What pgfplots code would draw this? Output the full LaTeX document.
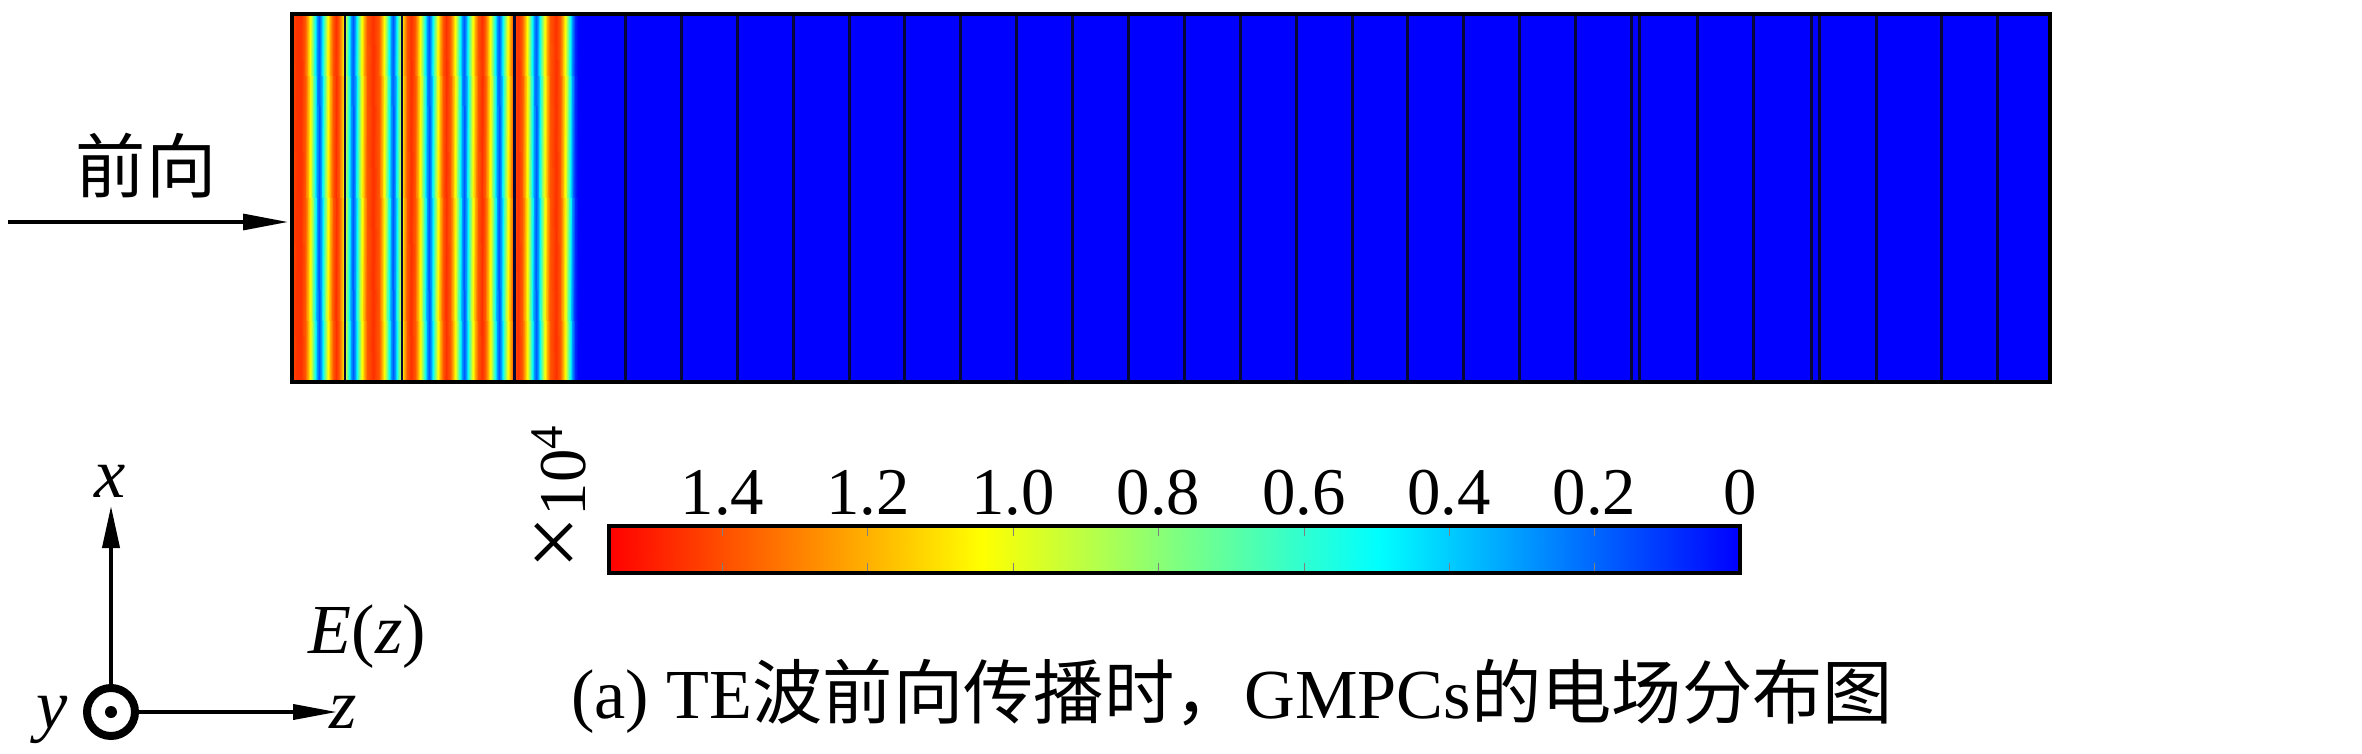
\documentclass[border=0pt]{standalone}
\usepackage{fontspec}
\setmainfont{Liberation Serif}
\newfontfamily\cjk{Noto Sans CJK SC}
\usepackage{pgfplots}
\usepackage{pgfplotstable}
\pgfplotsset{compat=1.18}
\usetikzlibrary{arrows.meta}
\definecolor{layerline}{rgb}{0.03,0.03,0.22}
\newcommand\fs{\fontsize{20}{24}\selectfont}
\pgfplotsset{
  colormap={gmpc}{rgb(0cm)=(0,0,1) rgb(0.32cm)=(0,1,1) rgb(0.5cm)=(0.5,1,0.5) rgb(0.67cm)=(1,1,0) rgb(1cm)=(1,0,0)},
}

\begin{document}
\begin{tikzpicture}
% |E| along z (px from the left edge of the crystal), in units of 10^4
\pgfplotstableread{
x c
0 1.40
4 1.45
9 1.46
13 1.38
16 1.20
19 0.97
22 0.65
25 0.30
27 0.18
29 0.30
32 0.65
35 0.97
38 1.20
41 1.38
44 1.46
47 1.38
50 1.20
53 0.97
56 0.65
59 0.30
61 0.18
63 0.30
66 0.65
69 0.97
72 1.20
75 1.38
81 1.46
87 1.38
90 1.20
93 0.97
96 0.65
99 0.30
101 0.18
103 0.30
106 0.65
109 0.97
112 1.20
115 1.38
119 1.46
123 1.38
126 1.20
129 0.97
132 0.65
135 0.30
137 0.18
139 0.30
142 0.65
145 0.97
148 1.20
151 1.38
154 1.46
158 1.38
161 1.20
164 0.97
167 0.65
170 0.30
172 0.18
174 0.30
177 0.65
180 0.97
183 1.20
186 1.38
190 1.46
193 1.38
196 1.20
199 0.97
202 0.65
205 0.30
207 0.18
209 0.30
212 0.65
215 0.97
218 1.20
221 1.38
226 1.46
230 1.38
233 1.20
236 0.97
239 0.65
242 0.30
244 0.18
246 0.30
249 0.65
252 0.97
255 1.20
258 1.38
264 1.46
268 1.38
271 1.20
274 0.97
277 0.65
280 0.30
283 0.08
286 0.00
1758 0.00
}\fieldprof
\pgfplotstablegetrowsof{\fieldprof}
\edef\nprof{\pgfplotsretval}
\pgfplotstablevertcat{\fieldmesh}{\fieldprof}
\pgfplotstablevertcat{\fieldmesh}{\fieldprof}

% colour scale (x 10^4): position and value
\pgfplotstableread{
x c
0 0
0.2 0.2
0.4 0.4
0.6 0.6
0.8 0.8
1.0 1.0
1.2 1.2
1.4 1.4
1.556 1.556
}\scaleprof
\pgfplotstablegetrowsof{\scaleprof}
\edef\nscale{\pgfplotsretval}
\pgfplotstablevertcat{\scalemesh}{\scaleprof}
\pgfplotstablevertcat{\scalemesh}{\scaleprof}

\path[use as bounding box] (0,0) rectangle (23.62,7.53);

\begin{axis}[
  at={(2.92cm,3.71cm)}, anchor=south west,
  width=17.58cm, height=3.68cm, scale only axis,
  xmin=0, xmax=1758, ymin=0, ymax=1,
  xtick=\empty, ytick=\empty,
  axis on top,
  axis line style={line width=1.4pt},
  colormap name=gmpc,
  point meta min=0, point meta max=1.556,
]
\addplot[surf, shader=interp, mesh/rows=2, point meta=\thisrow{c}]
  table[x=x, y expr={\coordindex<\nprof ? 0 : 1}] {\fieldmesh};
% layer boundaries
\addplot[ycomb, no markers, line width=0.85pt, color=layerline] coordinates {
(53,1) (110,1) (222,1) (333,1) (389,1) (445,1) (501,1) (557,1) (612,1)
(668,1) (724,1) (780,1) (836,1) (892,1) (948,1) (1004,1) (1060,1) (1115,1)
(1171,1) (1227,1) (1283,1) (1339,1) (1347,1) (1405,1) (1461,1) (1519,1)
(1527,1) (1584,1) (1649,1) (1705,1)};
\end{axis}

% colour scale
\begin{axis}[
  at={(6.09cm,1.80cm)}, anchor=south west,
  width=11.31cm, height=0.47cm, scale only axis,
  xmin=0, xmax=1.556, ymin=0, ymax=1, x dir=reverse,
  ytick=\empty,
  xtick={0,0.2,0.4,0.6,0.8,1.0,1.2,1.4},
  xticklabels={0,0.2,0.4,0.6,0.8,1.0,1.2,1.4},
  xticklabel pos=upper,
  xtick pos=both, xtick align=inside, major tick length=0.1cm,
  xticklabel shift=0.1cm,
  xticklabel style={inner sep=0pt, font=\fontsize{19}{19}\selectfont},
  axis on top,
  axis line style={line width=1pt},
  colormap name=gmpc,
  point meta min=0, point meta max=1.556,
]
\addplot[surf, shader=interp, mesh/rows=2, point meta=\thisrow{c}]
  table[x=x, y expr={\coordindex<\nscale ? 0 : 1}] {\scalemesh};
\end{axis}

% incidence arrow
\node[inner sep=0pt] at (1.46,5.87) {\cjk\fs 前向};
\draw[line width=0.9pt, -{Triangle[length=0.45cm,width=0.16cm]}] (0.08,5.31) -- (2.88,5.31);

% colorbar scale
\node[rotate=90, anchor=base, inner sep=0pt] at (5.85,2.56) {\fontsize{19}{19}\selectfont{\fontsize{27}{27}\selectfont ×}10\textsuperscript{4}};

% coordinate triad
\draw[line width=2.27pt] (1.11,0.41) circle (0.24);
\fill (1.11,0.41) circle (0.06);
\draw[line width=1.1pt, -{Triangle[length=0.42cm,width=0.17cm]}] (1.11,0.69) -- (1.11,2.47);
\draw[line width=1.1pt, -{Triangle[length=0.44cm,width=0.15cm]}] (1.39,0.41) -- (3.37,0.41);
\node[anchor=base, inner sep=0pt] at (1.10,2.56) {\fs\textit{x}};
\node[anchor=base, inner sep=0pt] at (3.43,0.25) {\fs\textit{z}};
\node[anchor=base, inner sep=0pt] at (0.52,0.25) {\fs\textit{y}};
\node[anchor=base west, inner sep=0pt] at (3.08,1.00) {\fs\textit{E}(\textit{z})};

% caption
\node[anchor=base, inner sep=0pt] at (12.32,0.35) {\fs (a) TE{\cjk 波前向传播时，}GMPCs{\cjk 的电场分布图}};
\end{tikzpicture}
\end{document}
